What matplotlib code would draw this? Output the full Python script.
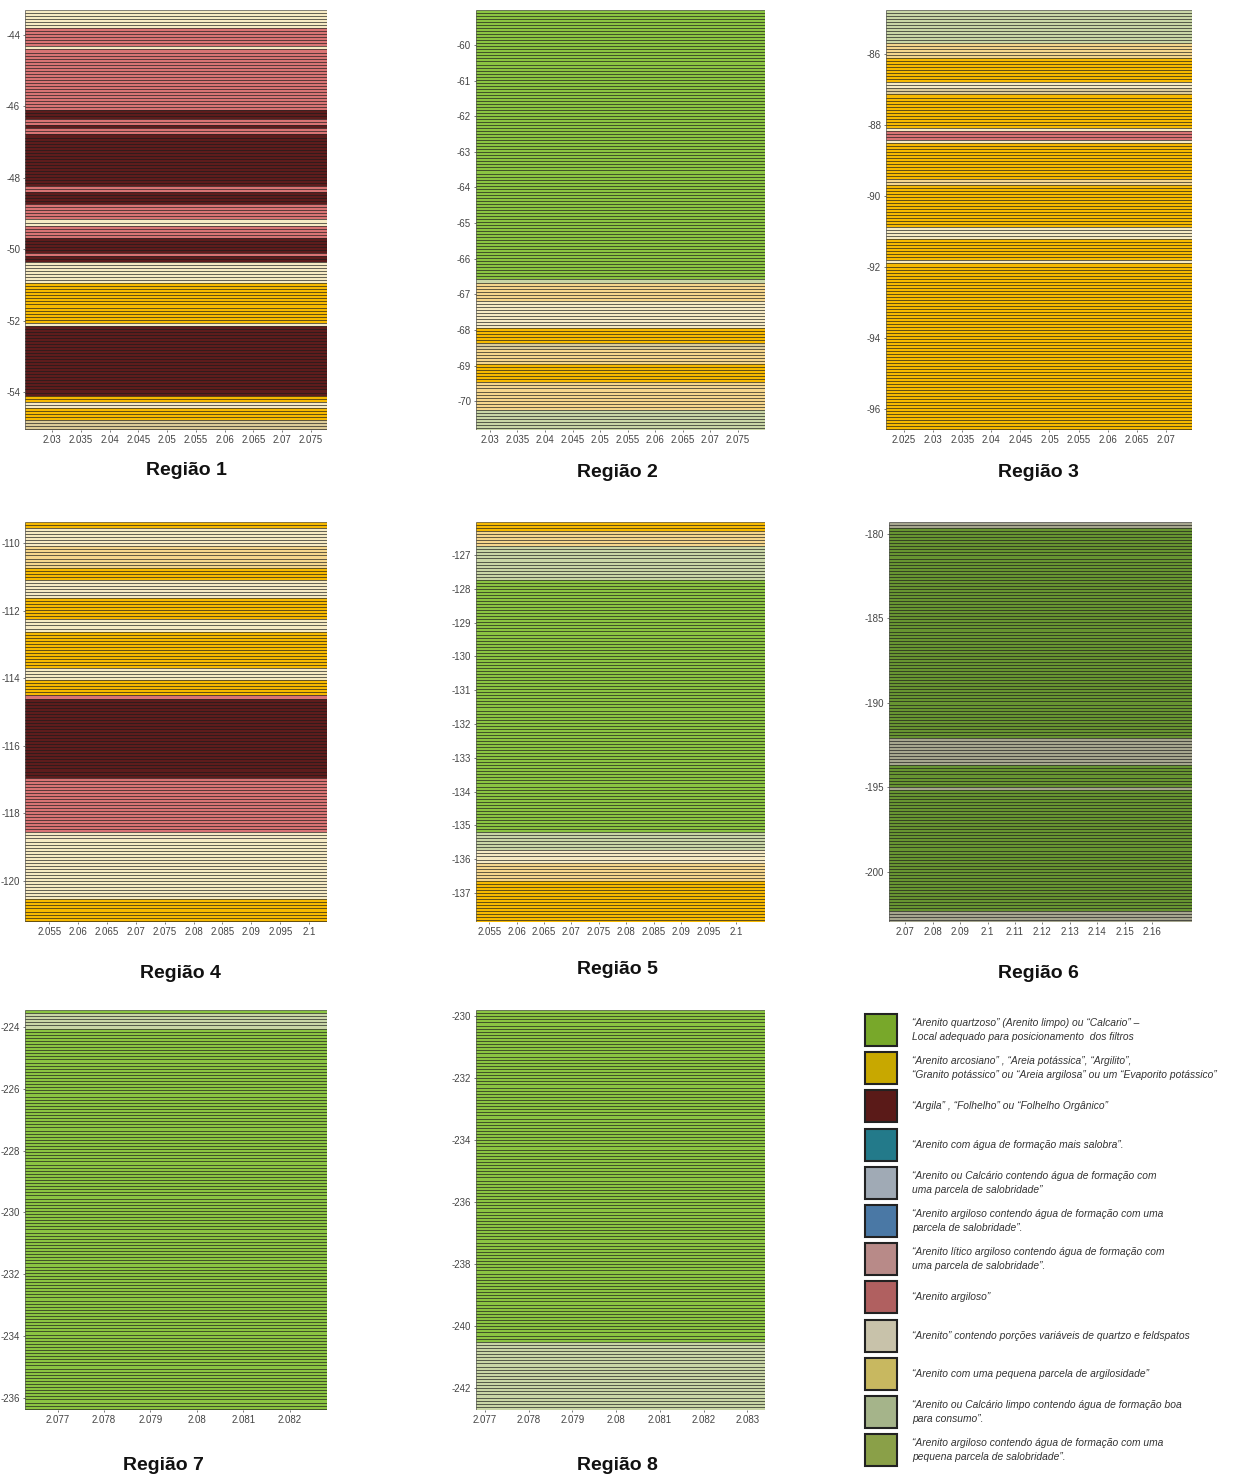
import numpy as np
import matplotlib
matplotlib.use("Agg")
import matplotlib.pyplot as plt
from matplotlib.patches import Rectangle

plt.rcParams['axes.unicode_minus'] = False
plt.rcParams['font.family'] = ['Liberation Sans', 'DejaVu Sans']

# colours seen in the well-log strips
colors = {
    'cream': '#f6eac3', 'pink': '#d97474', 'maroon': '#5e1c1c',
    'gold': '#f7b900', 'lgold': '#f5d68c', 'tan': '#dccb98',
    'green': '#8bc442', 'pgreen': '#c9d6a6', 'dgreen': '#679431',
    'gray': '#a6a68e',
}

# layer boundaries (depth, top -> bottom) and the class of each layer
reg1_bounds = [-43.30, -43.80, -44.31, -44.39, -46.10, -46.32, -46.50, -46.62, -46.80, -48.26,
               -48.43, -48.76, -49.13, -49.32, -49.71, -50.08, -50.16, -50.39, -50.92,
               -52.07, -52.12, -54.08, -54.28, -54.42, -54.78, -55.06]
reg1_classes = ['cream', 'pink', 'cream', 'pink', 'maroon', 'pink', 'maroon', 'pink', 'maroon',
                'pink', 'maroon', 'pink', 'cream', 'pink', 'maroon', 'pink', 'maroon', 'cream',
                'gold', 'cream', 'maroon', 'gold', 'cream', 'gold', 'tan']

reg2_bounds = [-59.02, -66.57, -66.65, -67.16, -67.92, -68.34, -68.57, -68.99, -69.49, -70.28, -70.81]
reg2_classes = ['green', 'pgreen', 'lgold', 'cream', 'gold', 'tan', 'lgold', 'gold', 'lgold', 'pgreen']

reg3_bounds = [-84.76, -85.72, -86.11, -86.82, -87.01, -87.18, -88.08, -88.14, -88.45, -88.51,
               -89.55, -89.69, -90.85, -91.24, -91.83, -91.92, -96.59]
reg3_classes = ['pgreen', 'lgold', 'gold', 'cream', 'tan', 'gold', 'cream', 'pink', 'cream',
                'gold', 'lgold', 'gold', 'cream', 'gold', 'cream', 'gold']

reg4_bounds = [-109.38, -109.56, -110.06, -110.71, -111.09, -111.63, -112.22, -112.66, -113.67,
               -114.05, -114.50, -114.64, -116.95, -117.31, -118.55, -120.50, -121.21]
reg4_classes = ['gold', 'cream', 'lgold', 'gold', 'cream', 'gold', 'cream', 'gold', 'cream',
                'gold', 'pink', 'maroon', 'pink', 'pink', 'cream', 'gold']

reg5_bounds = [-126.02, -126.26, -126.70, -127.74, -135.20, -135.73, -136.08, -136.62, -137.86]
reg5_classes = ['gold', 'lgold', 'pgreen', 'green', 'pgreen', 'cream', 'lgold', 'gold']

reg6_bounds = [-179.29, -179.59, -192.07, -193.67, -195.03, -195.21, -202.25, -202.96]
reg6_classes = ['gray', 'dgreen', 'gray', 'dgreen', 'gray', 'dgreen', 'gray']

reg7_bounds = [-223.45, -223.58, -224.03, -236.39]
reg7_classes = ['green', 'pgreen', 'green']

reg8_bounds = [-229.81, -240.55, -242.71]
reg8_classes = ['green', 'pgreen']

# axis ranges and ticks
reg_xlim = [(2.0253, 2.0778), (2.0275, 2.0799), (2.0219, 2.0745), (2.0508, 2.1031),
            (2.0526, 2.1053), (2.0641, 2.1745), (2.0763, 2.0828), (2.0768, 2.0834)]
reg_xticks = [[2.03, 2.035, 2.04, 2.045, 2.05, 2.055, 2.06, 2.065, 2.07, 2.075],
              [2.03, 2.035, 2.04, 2.045, 2.05, 2.055, 2.06, 2.065, 2.07, 2.075],
              [2.025, 2.03, 2.035, 2.04, 2.045, 2.05, 2.055, 2.06, 2.065, 2.07],
              [2.055, 2.06, 2.065, 2.07, 2.075, 2.08, 2.085, 2.09, 2.095, 2.1],
              [2.055, 2.06, 2.065, 2.07, 2.075, 2.08, 2.085, 2.09, 2.095, 2.1],
              [2.07, 2.08, 2.09, 2.1, 2.11, 2.12, 2.13, 2.14, 2.15, 2.16],
              [2.077, 2.078, 2.079, 2.08, 2.081, 2.082],
              [2.077, 2.078, 2.079, 2.08, 2.081, 2.082, 2.083]]
reg_yticks = [[-44, -46, -48, -50, -52, -54],
              [-60, -61, -62, -63, -64, -65, -66, -67, -68, -69, -70],
              [-86, -88, -90, -92, -94, -96],
              [-110, -112, -114, -116, -118, -120],
              [-127, -128, -129, -130, -131, -132, -133, -134, -135, -136, -137],
              [-180, -185, -190, -195, -200],
              [-224, -226, -228, -230, -232, -234, -236],
              [-230, -232, -234, -236, -238, -240, -242]]
reg_step = [0.085, 0.085, 0.085, 0.09, 0.09, 0.18, 0.1, 0.1]

reg_bounds = [reg1_bounds, reg2_bounds, reg3_bounds, reg4_bounds,
              reg5_bounds, reg6_bounds, reg7_bounds, reg8_bounds]
reg_classes = [reg1_classes, reg2_classes, reg3_classes, reg4_classes,
               reg5_classes, reg6_classes, reg7_classes, reg8_classes]
titles = ['Região 1', 'Região 2', 'Região 3', 'Região 4',
          'Região 5', 'Região 6', 'Região 7', 'Região 8']

# pixel boxes (left, top, right, bottom) and title positions
boxes = [(25, 10, 327, 430), (476, 10, 765, 430), (886, 10, 1192, 430),
         (25, 522, 327, 922), (476, 522, 765, 922), (889, 522, 1192, 922),
         (25, 1010, 327, 1410), (476, 1010, 765, 1410)]
title_pos = [(186, 470), (617, 473), (1038, 473), (180, 974), (617, 970),
             (1038, 974), (163, 1466), (617, 1465)]

legend_colors = ['#78a82a', '#c8a800', '#5a1a18', '#237a8a', '#a0aab5', '#4a78a5',
                 '#b88a88', '#b06060', '#c8c2aa', '#c8b860', '#a5b48a', '#8aa048']
legend_labels = [
    '“Arenito quartzoso” (Arenito limpo) ou “Calcario” –\nLocal adequado para posicionamento  dos filtros',
    '“Arenito arcosiano” , “Areia potássica”, “Argilito”,\n“Granito potássico” ou “Areia argilosa” ou um “Evaporito potássico”',
    '“Argila” , “Folhelho” ou “Folhelho Orgânico”',
    '“Arenito com água de formação mais salobra”.',
    '“Arenito ou Calcário contendo água de formação com\numa parcela de salobridade”',
    '“Arenito argiloso contendo água de formação com uma\nparcela de salobridade”.',
    '“Arenito lítico argiloso contendo água de formação com\numa parcela de salobridade”.',
    '“Arenito argiloso”',
    '“Arenito” contendo porções variáveis de quartzo e feldspatos',
    '“Arenito com uma pequena parcela de argilosidade”',
    '“Arenito ou Calcário limpo contendo água de formação boa\npara consumo”.',
    '“Arenito argiloso contendo água de formação com uma\npequena parcela de salobridade”.',
]

W, H = 1237, 1477
fig = plt.figure(figsize=(W / 100, H / 100), dpi=100)
tick_font = ['Liberation Sans Narrow', 'Liberation Sans', 'DejaVu Sans']

for i in range(8):
    l, t, r, b = boxes[i]
    ax = fig.add_axes([l / W, 1 - b / H, (r - l) / W, (b - t) / H])
    bounds = reg_bounds[i]
    x0, x1 = reg_xlim[i]
    step = reg_step[i]
    # sample the log from top to bottom; each sample drawn as a thin bar
    depths = np.arange(bounds[0], bounds[-1], -step)
    cols = []
    for d in depths:
        k = 0
        while k < len(bounds) - 2 and d - step / 2 < bounds[k + 1]:
            k += 1
        cols.append(colors[reg_classes[i][k]])
    ax.barh(depths - step / 2, x1 - x0, height=step, left=x0, color=cols,
            edgecolor=(0, 0, 0, 0.55), linewidth=0.6)
    ax.set_xlim(x0, x1)
    ax.set_ylim(bounds[-1], bounds[0])
    ax.set_xticks(reg_xticks[i])
    ax.set_xticklabels(['%g' % v for v in reg_xticks[i]], family=tick_font)
    ax.set_yticks(reg_yticks[i])
    ax.set_yticklabels(['%g' % v for v in reg_yticks[i]], family=tick_font)
    ax.tick_params(labelsize=7, length=1.5, width=0.5, colors='#444444', pad=2)
    for s in ax.spines.values():
        s.set_visible(False)
    tx, ty = title_pos[i]
    fig.text(tx / W, 1 - ty / H, titles[i], ha='center', va='center',
             fontsize=14, fontweight='bold', color='#111111')

# legend panel drawn in pixel coordinates
lax = fig.add_axes([860 / W, 0, 377 / W, 467 / H])
lax.set_xlim(0, 377)
lax.set_ylim(467, 0)
lax.axis('off')
for j in range(12):
    cy = 1030 - 1010 + j * 38.2
    lax.add_patch(Rectangle((5, cy - 16), 32, 32, facecolor=legend_colors[j],
                            edgecolor='#222222', linewidth=1.5))
    lax.text(52, cy, legend_labels[j], ha='left', va='center', fontsize=7.4,
             style='italic', color='#333333', linespacing=1.5)

fig.savefig('out.png', dpi=100)
